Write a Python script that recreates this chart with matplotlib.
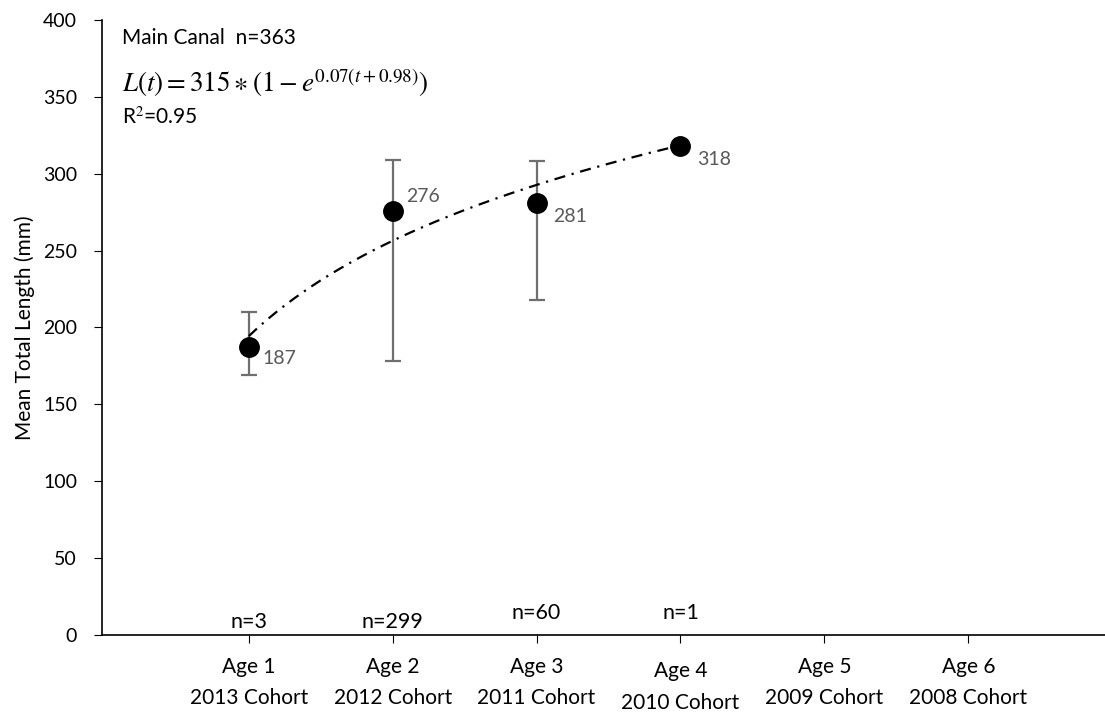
import numpy as np
import matplotlib
matplotlib.use("Agg")
import matplotlib.pyplot as plt
from matplotlib.transforms import ScaledTranslation

plt.rcParams["font.family"] = ["Lato", "DejaVu Sans"]
plt.rcParams["mathtext.fontset"] = "stix"

# Data
ages = [1, 2, 3, 4]
mean_len = [187, 276, 281, 318]
err_low = [169, 178, 218, None]
err_high = [210, 309, 308, None]
n_labels = ["n=3", "n=299", "n=60", "n=1"]
n_label_y = [8.5, 8.5, 14, 14]
tick_labels = ["Age 1\n2013 Cohort", "Age 2\n2012 Cohort", "Age 3\n2011 Cohort",
               "Age 4\n2010 Cohort", "Age 5\n2009 Cohort", "Age 6\n2008 Cohort"]

fig = plt.figure(figsize=(11.05, 7.17), dpi=100)
ax = fig.add_axes([0.0923, 0.1144, 0.9077, 0.8577])

# error bars (only where present)
eb_x = [a for a, lo in zip(ages, err_low) if lo is not None]
eb_y = [m for m, lo in zip(mean_len, err_low) if lo is not None]
eb_lo = [m - lo for m, lo in zip(mean_len, err_low) if lo is not None]
eb_hi = [hi - m for m, hi in zip(mean_len, err_high) if hi is not None]
ax.errorbar(eb_x, eb_y, yerr=[eb_lo, eb_hi], fmt="none", ecolor="#6f6f6f",
            elinewidth=1.6, capsize=6, capthick=1.6, zorder=2)

# logarithmic trendline fitted to the means
b, a = np.polyfit(np.log(ages), mean_len, 1)
xs = np.linspace(min(ages), max(ages), 200)
ax.plot(xs, a + b * np.log(xs), color="black", lw=1.6,
        linestyle=(0, (5, 3, 1, 3)), zorder=3)

ax.plot(ages, mean_len, "o", color="black", ms=14, zorder=4)

# data labels
offsets = [(10, -8), (10, 10), (12, -10), (12, -10)]
for x, y, (dx, dy) in zip(ages, mean_len, offsets):
    ax.annotate(str(y), (x, y), xytext=(dx, dy), textcoords="offset points",
                ha="left", va="center", fontsize=14, color="#595959")

for x, lab, ly in zip(ages, n_labels, n_label_y):
    ax.text(x, ly, lab, ha="center", va="center", fontsize=15.5)

ax.text(0.12, 388, "Main Canal  n=363", fontsize=15, va="center", ha="left")
ax.text(0.12, 359, r"$L(t) = 315 \ast (1 - e^{0.07(t+0.98)})$", fontsize=19.5,
        va="center", ha="left")
ax.text(0.12, 337, "R$^2$=0.95", fontsize=15, va="center", ha="left")

ax.set_xlim(-0.02, 6.95)
ax.set_ylim(0, 400)
ax.set_yticks(range(0, 401, 50))
ax.set_xticks(range(1, 7))
ax.set_xticklabels(tick_labels, fontsize=15, linespacing=1.7)
ax.tick_params(axis="x", length=6, pad=10)
ax.tick_params(axis="y", length=6, labelsize=14, pad=12)
ax.set_ylabel("Mean Total Length (mm)", fontsize=15, labelpad=6)

# Age 4 label sits slightly lower in the original
lab4 = ax.get_xticklabels()[3]
lab4.set_transform(lab4.get_transform() + ScaledTranslation(0, -3 / 72, fig.dpi_scale_trans))

for side in ["top", "right"]:
    ax.spines[side].set_visible(False)
for side in ["left", "bottom"]:
    ax.spines[side].set_linewidth(1.2)

fig.savefig("out.png", dpi=100)
